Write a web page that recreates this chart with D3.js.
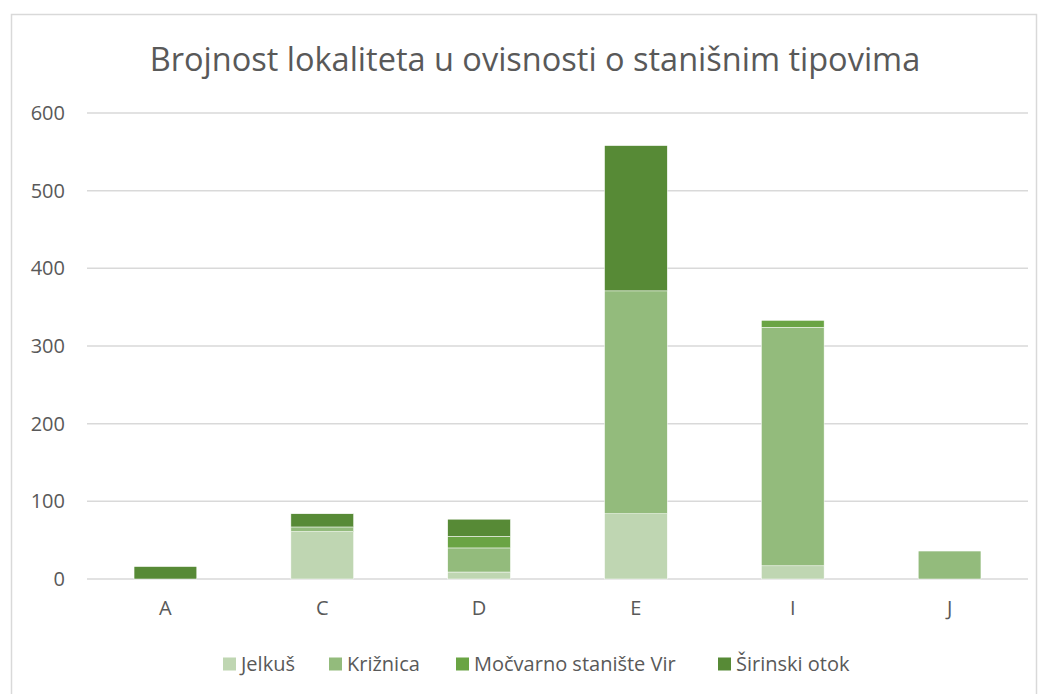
<!DOCTYPE html>
<html>
<head>
<meta charset="utf-8">
<script src="https://cdn.jsdelivr.net/npm/d3@7"></script>
<style>
  body { margin: 0; background: #fff; }
  text { font-family: "Open Sans", "Noto Sans", sans-serif; }
</style>
</head>
<body>
<div id="chart"></div>
<script>
// data
const categories = ["A", "C", "D", "E", "I", "J"];
const seriesNames = ["Jelkuš", "Križnica", "Močvarno stanište Vir", "Širinski otok"];
const jelkus = [0, 61, 9, 84, 17, 0];
const kriznica = [0, 6, 31, 287, 307, 36];
const mocvarno = [0, 0, 15, 0, 9, 0];
const sirinski = [16, 17, 22, 187, 0, 0];
const yTicks = [0, 100, 200, 300, 400, 500, 600];
const colors = ["#bfd6b2", "#93bb7c", "#6aa444", "#578a36"];

function drawChart() {
    let W = 1043, H = 694;
    let margin = {top: 113, left: 87};
    let width = 1028 - margin.left;
    let height = 579 - margin.top;

    let svg = d3.select("#chart").append("svg")
        .attr("width", W).attr("height", H);

    // chart border
    svg.append("rect")
        .attr("x", 11.5).attr("y", 14.5)
        .attr("width", 1025).attr("height", 700)
        .attr("fill", "none").attr("stroke", "#d9d9d9").attr("stroke-width", 1.5);

    svg.append("text")
        .attr("x", 535).attr("y", 71)
        .attr("text-anchor", "middle")
        .attr("fill", "#595959")
        .style("font-size", "32.5px")
        .text("Brojnost lokaliteta u ovisnosti o stanišnim tipovima");

    let g = svg.append("g").attr("transform", "translate(" + margin.left + "," + margin.top + ")");

    let x = d3.scaleBand().domain(categories).range([0, width]).paddingInner(0.6).paddingOuter(0.3);
    let y = d3.scaleLinear().domain([0, 600]).range([height, 0]);

    // gridlines
    g.selectAll(".grid").data(yTicks).enter().append("line")
        .attr("x1", 0).attr("x2", width)
        .attr("y1", d => y(d)).attr("y2", d => y(d))
        .attr("stroke", "#d9d9d9").attr("stroke-width", 1.5);

    // y axis labels
    let yAxis = g.append("g").call(d3.axisLeft(y).tickValues(yTicks).tickSize(0).tickPadding(22));
    yAxis.select(".domain").remove();
    yAxis.selectAll("text").attr("fill", "#595959").style("font-size", "20px");

    // x axis labels
    let xAxis = g.append("g").attr("transform", "translate(0," + height + ")")
        .call(d3.axisBottom(x).tickSize(0).tickPadding(22));
    xAxis.select(".domain").remove();
    xAxis.selectAll("text").attr("fill", "#595959").style("font-size", "20px");

    // stacked bars
    let rows = categories.map((c, i) => ({
        cat: c, s0: jelkus[i], s1: kriznica[i], s2: mocvarno[i], s3: sirinski[i]
    }));
    let stack = d3.stack().keys(["s0", "s1", "s2", "s3"])(rows);

    g.selectAll(".layer").data(stack).enter().append("g")
        .attr("fill", (d, i) => colors[i])
        .selectAll("rect").data(d => d).enter().append("rect")
        .attr("x", d => x(d.data.cat))
        .attr("width", x.bandwidth())
        .attr("y", d => y(d[1]))
        .attr("height", d => y(d[0]) - y(d[1]))
        .attr("stroke", "#ffffff").attr("stroke-width", 0.5);

    // legend
    let legend = svg.append("g").attr("transform", "translate(0,664)");
    let lx = [223, 329, 456, 718];
    seriesNames.forEach((name, i) => {
        legend.append("rect")
            .attr("x", lx[i]).attr("y", -6.5)
            .attr("width", 13).attr("height", 13)
            .attr("fill", colors[i]);
        legend.append("text")
            .attr("x", lx[i] + 18).attr("y", 0)
            .attr("dy", "0.35em")
            .attr("fill", "#595959")
            .style("font-size", "20px")
            .text(name);
    });
}

drawChart();
</script>
</body>
</html>
